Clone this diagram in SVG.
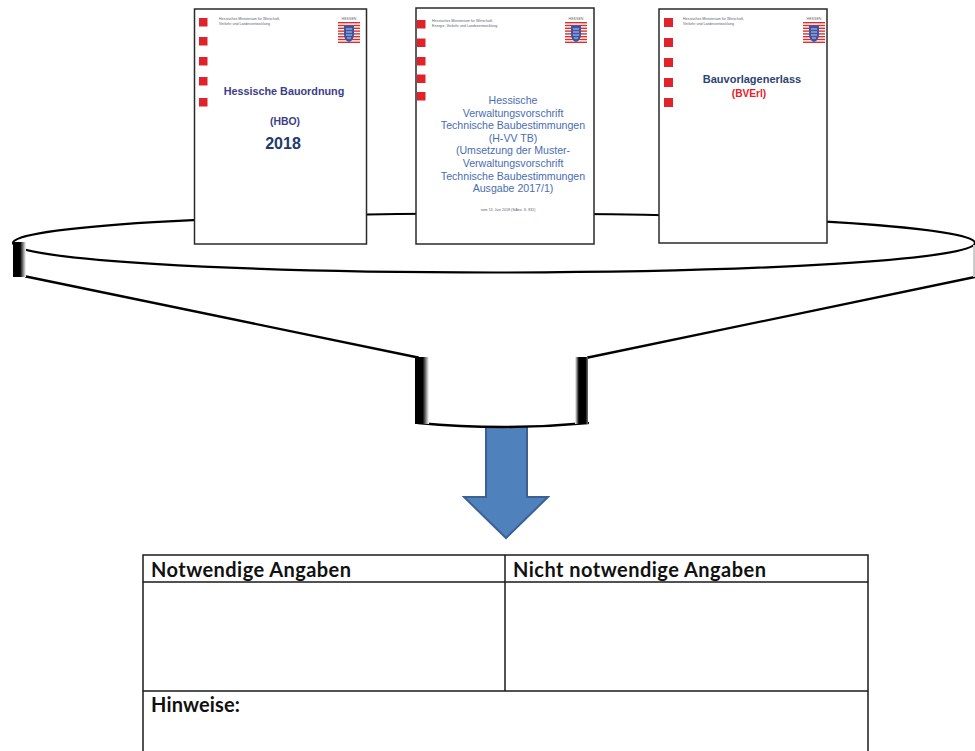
<svg xmlns="http://www.w3.org/2000/svg" width="975" height="751" viewBox="0 0 975 751">
<style>
.doc{fill:#fff;stroke:#2a2a2a;stroke-width:1.5}
.sq{fill:#e0232b}
.hdr{font-family:"Liberation Sans",Arial,sans-serif;font-size:3.6px;fill:#5a6070}
.ln{fill:none;stroke:#000;stroke-width:2.3;stroke-linecap:round}
.tb{fill:none;stroke:#1a1a1a;stroke-width:1.5}
.th{font-family:Lato,"Open Sans",sans-serif;font-weight:bold;font-size:20px;fill:#111}
.blue{font-family:"Liberation Sans",Arial,sans-serif;font-size:10.6px;fill:#4a6db3;text-anchor:middle}
.bold{font-family:"Liberation Sans",Arial,sans-serif;font-weight:bold;text-anchor:middle}
</style>
<defs>
<linearGradient id="edgeL" x1="0" y1="0" x2="1" y2="0">
<stop offset="0" stop-color="#000"/><stop offset="0.55" stop-color="#000"/><stop offset="1" stop-color="#fff"/>
</linearGradient>
<linearGradient id="edgeC" x1="0" y1="0" x2="1" y2="0">
<stop offset="0" stop-color="#fff"/><stop offset="0.3" stop-color="#000"/><stop offset="0.8" stop-color="#000"/><stop offset="1" stop-color="#777"/>
</linearGradient>
<symbol id="hessen" viewBox="0 0 22 28">
<text x="11" y="3.2" font-family="Liberation Sans, Arial, sans-serif" font-size="3.6" text-anchor="middle" fill="#666">HESSEN</text>
<rect x="0" y="5" width="22" height="22" fill="#fff"/>
<g fill="#d9302f">
<rect x="0" y="5" width="22" height="1.4"/><rect x="0" y="7.8" width="22" height="1.4"/><rect x="0" y="10.6" width="22" height="1.4"/><rect x="0" y="13.4" width="22" height="1.4"/><rect x="0" y="16.2" width="22" height="1.4"/><rect x="0" y="19" width="22" height="1.4"/><rect x="0" y="21.8" width="22" height="1.4"/><rect x="0" y="24.6" width="22" height="1.4"/>
</g>
<path d="M6 8.5 H16 V17.5 Q16 23.5 11 25 Q6 23.5 6 17.5 Z" fill="#3a55a5"/>
<path d="M8 12 H14 M8 15 H14 M8 18 H14 M9 21 H13" stroke="#e8e8f0" stroke-width="0.8"/>
</symbol>
</defs>

<g id="connectors">
<path d="M486 426 H527 V497 H548 L506 538 L464 497 H486 Z" fill="#4f81bd" stroke="#3b6193" stroke-width="2"/>
</g>

<g id="funnel">
<path d="M14 242 L14 277 L26 277 L418 357 L418 423 Q503 431 588 423 L588 357 L975 277 L975 245 Z" fill="#fff"/>
<ellipse cx="494" cy="243" rx="481" ry="29.5" fill="#fff" stroke="#000" stroke-width="2.2"/>
<path class="ln" d="M26 276.5 L418 357.5"/>
<path class="ln" d="M588 357.5 L975 277"/>
<path class="ln" d="M418 423 Q503 431 588 423"/>
<rect x="13" y="242" width="13" height="35" fill="url(#edgeL)"/>
<rect x="415" y="357" width="14" height="67" fill="url(#edgeL)"/>
<rect x="575" y="357" width="13" height="67" fill="url(#edgeC)"/>
<rect x="973" y="245" width="2" height="32" fill="#ccc"/>
</g>

<g id="doc-hbo">
<rect class="doc" x="194.5" y="9" width="172" height="235"/>
<rect class="sq" x="199" y="18" width="8.5" height="8.5"/>
<rect class="sq" x="199" y="37" width="8.5" height="8.5"/>
<rect class="sq" x="199" y="57" width="8.5" height="8.5"/>
<rect class="sq" x="199" y="77" width="8.5" height="8.5"/>
<rect class="sq" x="199" y="98" width="8.5" height="8.5"/>
<text class="hdr" x="219" y="20">Hessisches Ministerium für Wirtschaft,</text>
<text class="hdr" x="219" y="24.5">Verkehr und Landesentwicklung</text>
<use href="#hessen" x="338" y="17" width="22" height="28"/>
<text class="bold" x="284" y="95" font-size="10.8" fill="#3d3d8a">Hessische Bauordnung</text>
<text class="bold" x="285" y="125" font-size="10.4" fill="#3d3d8a">(HBO)</text>
<text class="bold" x="283" y="149" font-size="16" fill="#1f3a6d">2018</text>
</g>

<g id="doc-hvvtb">
<rect class="doc" x="416" y="8" width="178" height="236"/>
<rect class="sq" x="417" y="20" width="8.5" height="8.5"/>
<rect class="sq" x="417" y="38.5" width="8.5" height="8.5"/>
<rect class="sq" x="417" y="57" width="8.5" height="8.5"/>
<rect class="sq" x="417" y="74.5" width="8.5" height="8.5"/>
<rect class="sq" x="417" y="92" width="8.5" height="8.5"/>
<text class="hdr" x="432" y="22">Hessisches Ministerium für Wirtschaft,</text>
<text class="hdr" x="432" y="26.5">Energie, Verkehr und Landesentwicklung</text>
<use href="#hessen" x="565" y="17" width="22" height="28"/>
<text class="blue" x="513" y="104">Hessische</text>
<text class="blue" x="513" y="116.6">Verwaltungsvorschrift</text>
<text class="blue" x="513" y="129.2">Technische Baubestimmungen</text>
<text class="blue" x="513" y="141.8">(H-VV TB)</text>
<text class="blue" x="513" y="154.4">(Umsetzung der Muster-</text>
<text class="blue" x="513" y="167">Verwaltungsvorschrift</text>
<text class="blue" x="513" y="179.6">Technische Baubestimmungen</text>
<text class="blue" x="513" y="192.2">Ausgabe 2017/1)</text>
<text class="hdr" x="508" y="211" text-anchor="middle" font-size="3.3">vom 13. Juni 2018 (StAnz. S. 831)</text>
</g>

<g id="doc-bverl">
<rect class="doc" x="659" y="9" width="168" height="234"/>
<rect class="sq" x="664" y="18" width="9" height="9"/>
<rect class="sq" x="664" y="38" width="9" height="9"/>
<rect class="sq" x="664" y="58" width="9" height="9"/>
<rect class="sq" x="664" y="78" width="9" height="9"/>
<rect class="sq" x="664" y="98" width="9" height="9"/>
<text class="hdr" x="683" y="20">Hessisches Ministerium für Wirtschaft,</text>
<text class="hdr" x="683" y="24.5">Verkehr und Landesentwicklung</text>
<use href="#hessen" x="803" y="17" width="22" height="28"/>
<text class="bold" x="752" y="83" font-size="11" fill="#2b4570">Bauvorlagenerlass</text>
<text class="bold" x="749" y="97" font-size="10.2" fill="#e8202a">(BVErl)</text>
</g>

<g id="table">
<rect x="143" y="555" width="725" height="210" fill="#fff"/>
<path class="tb" d="M143 760 V555 H868 V760"/>
<path class="tb" d="M143 582 H868 M143 691 H868"/>
<path class="tb" d="M505 555 V691" stroke-width="2"/>
<text class="th" x="151" y="577" textLength="200">Notwendige Angaben</text>
<text class="th" x="513" y="577" textLength="253">Nicht notwendige Angaben</text>
<text class="th" x="151" y="712" textLength="89">Hinweise:</text>
</g>
</svg>
